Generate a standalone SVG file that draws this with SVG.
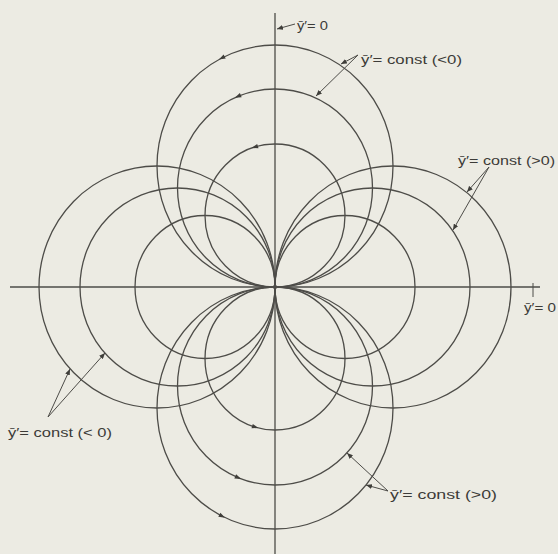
<svg xmlns="http://www.w3.org/2000/svg" width="558" height="554" viewBox="0 0 558 554">
<style>
.bg{fill:#ecebe3}
.ax{fill:none;stroke:#4d4c48;stroke-width:1.3}
.c{fill:none;stroke:#4d4c48;stroke-width:1.3}
.ld{fill:none;stroke:#4d4c48;stroke-width:1;marker-end:url(#ah)}
.fa{fill:#3f3e3a}
.t{font-family:"Liberation Sans","DejaVu Sans",sans-serif;font-size:13px;fill:#3c3b38}
.ts{font-size:12px}
</style>
<defs>
<marker id="ah" viewBox="0 0 6 5" refX="6" refY="2.5" markerWidth="6" markerHeight="5" markerUnits="userSpaceOnUse" orient="auto">
<path d="M0,0 L6,2.5 L0,5 z" fill="#3f3e3a"/>
</marker>
<path id="fa" class="fa" d="M3.5,0 L-3,-2.3 L-3,2.3 z"/>
</defs>
<rect class="bg" x="0" y="0" width="558" height="554"/>

<g id="axes">
<line class="ax" x1="275" y1="13" x2="275" y2="554"/>
<line class="ax" x1="10" y1="287" x2="540" y2="287"/>
<circle cx="275" cy="287" r="1.8" fill="#ecebe3" stroke="#4d4c48" stroke-width="1"/>
</g>

<g id="top-circles">
<ellipse class="c" cx="275" cy="166" rx="118" ry="121"/>
<ellipse class="c" cx="275" cy="188" rx="97.5" ry="99"/>
<ellipse class="c" cx="275" cy="215.5" rx="70" ry="71.5"/>
<use href="#fa" transform="translate(222,57.9) rotate(152.7)"/>
<use href="#fa" transform="translate(238,96.4) rotate(157.4)"/>
<use href="#fa" transform="translate(255,147) rotate(163.1)"/>
</g>

<g id="bottom-circles">
<ellipse class="c" cx="275" cy="408" rx="118" ry="121"/>
<ellipse class="c" cx="275" cy="386" rx="97.5" ry="99"/>
<ellipse class="c" cx="275" cy="358.5" rx="70" ry="71.5"/>
<use href="#fa" transform="translate(222,516.1) rotate(27.3)"/>
<use href="#fa" transform="translate(238,477.6) rotate(22.6)"/>
<use href="#fa" transform="translate(255,427) rotate(16.9)"/>
</g>

<g id="right-circles">
<ellipse class="c" cx="393" cy="287" rx="118" ry="121"/>
<ellipse class="c" cx="372.5" cy="287" rx="97.5" ry="99"/>
<ellipse class="c" cx="345" cy="287" rx="70" ry="71.5"/>
</g>

<g id="left-circles">
<ellipse class="c" cx="157" cy="287" rx="118" ry="121"/>
<ellipse class="c" cx="177.5" cy="287" rx="97.5" ry="99"/>
<ellipse class="c" cx="205" cy="287" rx="70" ry="71.5"/>
</g>

<g id="connectors">
<line class="ld" x1="295" y1="24" x2="277" y2="29"/>
<line class="ld" x1="358" y1="55" x2="341" y2="64"/>
<line class="ld" x1="358" y1="55" x2="316" y2="96"/>
<line class="ld" x1="489" y1="167" x2="467" y2="192"/>
<line class="ld" x1="489" y1="167" x2="453" y2="230"/>
<line class="ld" x1="48" y1="417" x2="70" y2="369"/>
<line class="ld" x1="48" y1="417" x2="105" y2="353"/>
<line class="ld" x1="388" y1="491" x2="347" y2="453"/>
<line class="ld" x1="388" y1="491" x2="366" y2="485"/>
<line class="ax" x1="533" y1="283" x2="533" y2="297" style="stroke-width:1"/>
</g>

<g id="labels">
<text class="t ts" x="297" y="30" textLength="31" lengthAdjust="spacingAndGlyphs">ȳ′= 0</text>
<text class="t" x="361" y="64" textLength="101" lengthAdjust="spacingAndGlyphs">ȳ′= const (&lt;0)</text>
<text class="t" x="458" y="165" textLength="97" lengthAdjust="spacingAndGlyphs">ȳ′= const (&gt;0)</text>
<text class="t ts" x="524" y="312" textLength="32" lengthAdjust="spacingAndGlyphs">ȳ′= 0</text>
<text class="t" x="8" y="437" textLength="104" lengthAdjust="spacingAndGlyphs">ȳ′= const (&lt; 0)</text>
<text class="t" x="390" y="499" textLength="107" lengthAdjust="spacingAndGlyphs">ȳ′= const (&gt;0)</text>
</g>
</svg>
